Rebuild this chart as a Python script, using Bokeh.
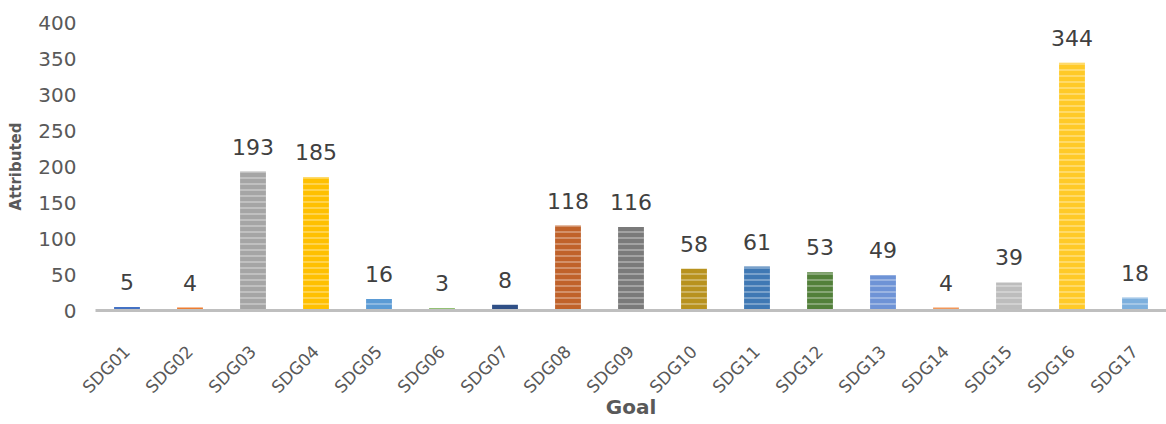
import math
from bokeh.plotting import figure
from bokeh.models import ColumnDataSource, Range1d, FactorRange, FixedTicker
from bokeh.core.properties import value
from bokeh.embed import file_html
from bokeh.resources import INLINE

goals = ["SDG01", "SDG02", "SDG03", "SDG04", "SDG05", "SDG06", "SDG07", "SDG08", "SDG09",
         "SDG10", "SDG11", "SDG12", "SDG13", "SDG14", "SDG15", "SDG16", "SDG17"]
attributed = [5, 4, 193, 185, 16, 3, 8, 118, 116, 58, 61, 53, 49, 4, 39, 344, 18]
bar_colors = ["#4472C4", "#ED7D31", "#A5A5A5", "#FFC000", "#5B9BD5", "#70AD47", "#2F4F86",
              "#C0622A", "#7A7A7A", "#B8921E", "#3F78B4", "#52803A", "#6E93D6", "#F1975A",
              "#BDBDBD", "#FFCA28", "#7CAFDD"]
y_ticks = [0, 50, 100, 150, 200, 250, 300, 350, 400]

FONT = "DejaVu Sans"

src = ColumnDataSource(dict(goal=goals, val=attributed, color=bar_colors,
                            lbl=[str(v) for v in attributed]))

p = figure(width=1166, height=424, x_range=FactorRange(*goals, range_padding=0),
           y_range=Range1d(0, 400), output_backend="svg", toolbar_location=None,
           min_border_left=95, min_border_right=0, min_border_top=22, min_border_bottom=114)
p.outline_line_color = None
p.grid.grid_line_color = None
p.background_fill_color = "white"
p.border_fill_color = "white"

p.vbar(x="goal", top="val", width=0.41, source=src, fill_color="color", line_color=None,
       hatch_pattern="horizontal_line", hatch_color="white", hatch_alpha=0.3,
       hatch_scale=6, hatch_weight=2)

p.text(x="goal", y="val", text="lbl", source=src, text_align="center",
       text_baseline="middle", y_offset=-25, text_font=value(FONT),
       text_font_size="22px", text_color="#404040")

ya = p.yaxis[0]
ya.ticker = FixedTicker(ticks=y_ticks)
ya.axis_line_color = None
ya.major_tick_line_color = None
ya.minor_tick_line_color = None
ya.major_tick_out = 0
ya.major_label_standoff = 19
ya.major_label_text_font = FONT
ya.major_label_text_font_size = "20px"
ya.major_label_text_color = "#595959"
ya.axis_label = "Attributed"
ya.axis_label_text_font = FONT
ya.axis_label_text_font_size = "15px"
ya.axis_label_text_font_style = "bold"
ya.axis_label_text_color = "#595959"
ya.axis_label_standoff = 10

xa = p.xaxis[0]
xa.axis_line_color = "#BFBFBF"
xa.axis_line_width = 3
xa.major_tick_line_color = None
xa.minor_tick_line_color = None
xa.major_tick_out = 0
xa.major_label_orientation = math.pi / 4
xa.major_label_standoff = 38
xa.major_label_text_font = FONT
xa.major_label_text_font_size = "17px"
xa.major_label_text_color = "#595959"
xa.axis_label = "Goal"
xa.axis_label_text_font = FONT
xa.axis_label_text_font_size = "20px"
xa.axis_label_text_font_style = "bold"
xa.axis_label_text_color = "#595959"
xa.axis_label_standoff = -12

open("out.html", "w").write(file_html(p, INLINE))
